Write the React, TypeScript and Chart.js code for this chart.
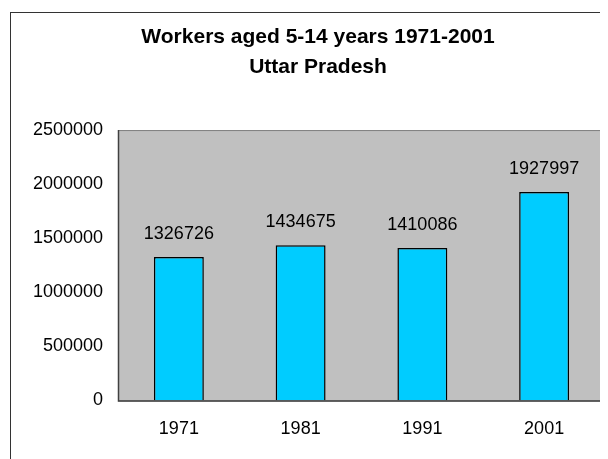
import React, { useEffect, useRef } from "react";
import { Chart, registerables } from "chart.js";

Chart.register(...registerables);

const categories = ["1971", "1981", "1991", "2001"];
const workers = [1326726, 1434675, 1410086, 1927997];
const yTicks = [0, 500000, 1000000, 1500000, 2000000, 2500000];
const titleLines = ["Workers aged 5-14 years 1971-2001", "Uttar Pradesh"];

const FONT = "'Liberation Sans', Arial, Helvetica, sans-serif";

const plotDecor = {
  id: "plotDecor",
  beforeDatasetsDraw(chart: any) {
    const { ctx, chartArea: a } = chart;
    ctx.save();
    ctx.fillStyle = "#C0C0C0";
    ctx.fillRect(a.left, a.top, a.right - a.left, a.bottom - a.top);
    ctx.strokeStyle = "#808080";
    ctx.lineWidth = 1;
    ctx.strokeRect(a.left + 0.5, a.top + 0.5, a.right - a.left - 1, a.bottom - a.top);
    ctx.restore();
  },
  afterDatasetsDraw(chart: any) {
    const { ctx, chartArea: a } = chart;
    ctx.save();
    ctx.strokeStyle = "#404040";
    ctx.lineWidth = 1.5;
    ctx.beginPath();
    ctx.moveTo(a.left + 0.5, a.top);
    ctx.lineTo(a.left + 0.5, a.bottom + 0.5);
    ctx.lineTo(a.right, a.bottom + 0.5);
    ctx.stroke();
    // value labels
    ctx.fillStyle = "#000";
    ctx.font = `18px ${FONT}`;
    ctx.textAlign = "center";
    ctx.textBaseline = "middle";
    const meta = chart.getDatasetMeta(0);
    meta.data.forEach((bar: any, i: number) => {
      const v = chart.data.datasets[0].data[i];
      ctx.fillText(String(v), bar.x, bar.y - 23);
    });
    ctx.restore();
  },
};

export default function App() {
  const ref = useRef<HTMLCanvasElement>(null);
  useEffect(() => {
    if (!ref.current) return;
    const chart = new Chart(ref.current, {
      type: "bar",
      data: {
        labels: categories,
        datasets: [
          {
            data: workers,
            backgroundColor: "#00CCFF",
            borderColor: "#000000",
            borderWidth: 1.5,
            barPercentage: 0.41,
            categoryPercentage: 1,
          },
        ],
      },
      options: {
        animation: false,
        responsive: false,
        devicePixelRatio: 1,
        layout: { padding: { left: 23, right: 3, top: 0, bottom: 1 } },
        plugins: {
          legend: { display: false },
          tooltip: { enabled: false },
          title: {
            display: true,
            text: titleLines,
            color: "#000",
            font: { family: FONT, size: 21, weight: "bold", lineHeight: 1.43 },
            padding: { top: 14, bottom: 48 },
          },
        },
        scales: {
          x: {
            grid: { display: false, drawTicks: false },
            border: { display: false },
            ticks: {
              color: "#000",
              font: { family: FONT, size: 18 },
              padding: 18,
              maxRotation: 0,
            },
          },
          y: {
            min: 0,
            max: 2500000,
            afterBuildTicks(scale: any) {
              scale.ticks = yTicks.map((v) => ({ value: v }));
            },
            afterFit(scale: any) {
              scale.width = 87;
            },
            grid: { display: false, drawTicks: false },
            border: { display: false },
            ticks: {
              color: "#000",
              font: { family: FONT, size: 18 },
              padding: 15,
              callback: (v: any) => String(v),
            },
          },
        },
      },
      plugins: [plotDecor],
    });
    return () => chart.destroy();
  }, []);

  return (
    <div style={{ position: "relative", width: 600, height: 451, overflow: "hidden", background: "#fff" }}>
      <div
        style={{
          position: "absolute",
          left: 2,
          top: 4,
          width: 700,
          height: 600,
          border: "1px solid #333",
          boxSizing: "border-box",
        }}
      />
      <canvas ref={ref} width={600} height={451} style={{ position: "absolute", left: 0, top: 0, display: "block" }} />
    </div>
  );
}
